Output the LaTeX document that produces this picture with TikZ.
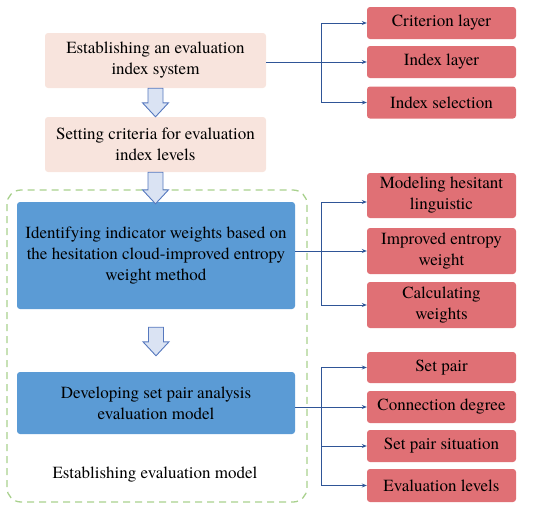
\documentclass[tikz,border=0pt]{standalone}
\usepackage{fontspec}
\setmainfont{TeX Gyre Termes}
\usetikzlibrary{calc,arrows.meta}
\definecolor{pinkf}{RGB}{248,228,221}
\definecolor{redf}{RGB}{224,112,117}
\definecolor{bluef}{RGB}{91,155,213}
\definecolor{connc}{RGB}{47,85,151}
\definecolor{arrf}{RGB}{218,227,243}
\definecolor{arrd}{RGB}{86,120,190}
\definecolor{greend}{RGB}{169,209,142}
\tikzset{
  base/.style={rounded corners=3pt, align=center, inner sep=0pt, font=\fontsize{17}{21}\selectfont},
  pinkbox/.style={base, fill=pinkf, minimum width=221pt, minimum height=55pt},
  bluebox/.style={base, fill=bluef, minimum width=278pt},
  redbox/.style={base, fill=redf, minimum width=149pt},
  conn/.style={draw=connc, line width=0.9pt},
  connarr/.style={conn, -{Stealth[length=5pt,width=4pt]}},
  barrow/.style={fill=arrf, draw=arrd, line width=0.9pt, line join=miter},
}
\newcommand{\blockarr}[2]{%
  \path let \p1=#1, \p2=#2 in
    [barrow] (\x1-7.5pt,\y1) -- (\x1+7.5pt,\y1) -- (\x1+7.5pt,\y2+14pt) -- (\x1+13pt,\y2+14pt)
    -- (\x1,\y2) -- (\x1-13pt,\y2+14pt) -- (\x1-7.5pt,\y2+14pt) -- cycle;}
\begin{document}
\begin{tikzpicture}[x=1pt,y=-1pt]
\useasboundingbox (0,0) rectangle (550,509);
% green dashed frame
\draw[draw=greend, line width=1.3pt, dash pattern=on 7pt off 5pt, rounded corners=14pt] (7,190) rectangle (307,502);
% main column
\node[pinkbox] (e1) at (155.5,60.5) {Establishing an evaluation\\index system};
\node[pinkbox] (e2) at (155.5,144.5) {Setting criteria for evaluation\\index levels};
\node[bluebox, minimum height=107pt] (b1) at (156,255.5) {Identifying indicator weights based on\\the hesitation cloud-improved entropy\\weight method};
\node[bluebox, minimum height=62pt] (b2) at (156,403) {Developing set pair analysis\\evaluation model};
\node[base] (lab) at (155,475) {Establishing evaluation model};
% block arrows
\blockarr{(e1.south)}{(e2.north)}
\blockarr{(e2.south)}{($(b1.north)+(0,2)$)}
\blockarr{($(b1.south)+(0,18)$)}{($(b2.north)+(0,-16)$)}
% right boxes
\node[redbox, minimum height=32pt] (r1) at (441.5,23) {Criterion layer};
\node[redbox, minimum height=32pt] (r2) at (441.5,62) {Index layer};
\node[redbox, minimum height=32pt] (r3) at (441.5,102.5) {Index selection};
\node[redbox, minimum height=45pt] (r4) at (441.5,195.5) {Modeling hesitant\\linguistic};
\node[redbox, minimum height=46pt] (r5) at (441.5,251) {Improved entropy\\weight};
\node[redbox, minimum height=46pt] (r6) at (441.5,305) {Calculating\\weights};
\node[redbox, minimum height=31pt] (r7) at (441.5,367.5) {Set pair};
\node[redbox, minimum height=32pt] (r8) at (441.5,407) {Connection degree};
\node[redbox, minimum height=32pt] (r9) at (441.5,446) {Set pair situation};
\node[redbox, minimum height=33pt] (r10) at (441.5,485.5) {Evaluation levels};
\coordinate (bx) at (321,0);
% group 1
\draw[connarr] (e1.east |- r2.west) -- (r2.west);
\draw[conn] (bx |- r1.west) -- (bx |- r3.west);
\draw[connarr] (bx |- r1.west) -- (r1.west);
\draw[connarr] (bx |- r3.west) -- (r3.west);
% group 2
\coordinate (t4) at ($(r4.west)+(0,6.5)$);
\draw[connarr] (b1.east |- r5.west) -- (r5.west);
\draw[conn] (bx |- t4) -- (bx |- r6.west);
\draw[connarr] (bx |- t4) -- (t4);
\draw[connarr] (bx |- r6.west) -- (r6.west);
% group 3
\draw[connarr] (b2.east |- r8.west) -- (r8.west);
\draw[conn] (bx |- r7.west) -- (bx |- r10.west);
\draw[connarr] (bx |- r7.west) -- (r7.west);
\draw[connarr] (bx |- r9.west) -- (r9.west);
\draw[connarr] (bx |- r10.west) -- (r10.west);
\end{tikzpicture}
\end{document}
